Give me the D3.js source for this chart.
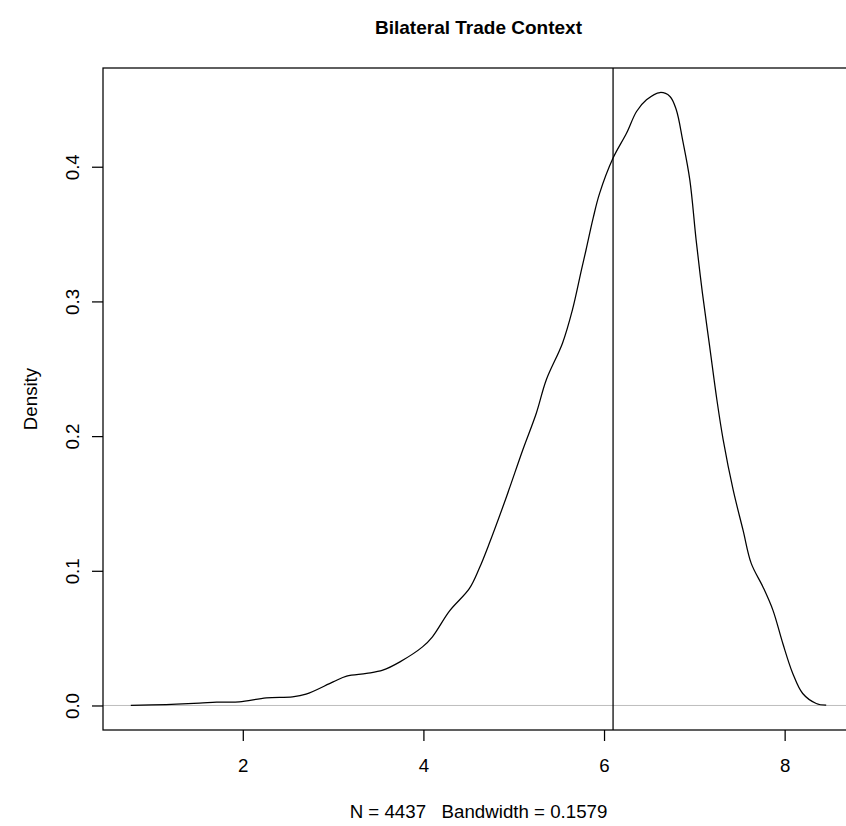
<!DOCTYPE html>
<html>
<head>
<meta charset="utf-8">
<script src="https://cdn.jsdelivr.net/npm/d3@7"></script>
<style>
  html, body { margin: 0; padding: 0; background: #fff; }
  svg { display: block; }
  text { font-family: "Liberation Sans", Arial, Helvetica, sans-serif; fill: #000; }
</style>
</head>
<body>
<script>
// ---- data ----
const densityX = [0.76, 1.15, 1.52, 1.71, 1.96, 2.26, 2.55, 2.70, 3.00, 3.15, 3.37, 3.55, 3.74, 3.99, 4.10, 4.29, 4.51, 4.62, 4.73, 4.92, 5.10, 5.25, 5.36, 5.54, 5.65, 5.75, 5.80, 5.88, 5.95, 6.10, 6.25, 6.36, 6.47, 6.62, 6.73, 6.80, 6.87, 6.95, 7.02, 7.09, 7.17, 7.25, 7.32, 7.43, 7.54, 7.63, 7.76, 7.87, 7.98, 8.09, 8.20, 8.35, 8.46];
const densityY = [0.0000, 0.0007, 0.0017, 0.0025, 0.0027, 0.0056, 0.0064, 0.0084, 0.0175, 0.0218, 0.0238, 0.0262, 0.0324, 0.0435, 0.0510, 0.0702, 0.0869, 0.1020, 0.1204, 0.1550, 0.1897, 0.2170, 0.2417, 0.2690, 0.2937, 0.3234, 0.3380, 0.3620, 0.3800, 0.4064, 0.4250, 0.4410, 0.4497, 0.4551, 0.4522, 0.4423, 0.4200, 0.3903, 0.3455, 0.3060, 0.2664, 0.2268, 0.1970, 0.1600, 0.1300, 0.1055, 0.0880, 0.0708, 0.0460, 0.0238, 0.0089, 0.0015, 0.0002];
const verticalLineX = 6.1;
const xTicks = [2, 4, 6, 8];
const yTicks = [0.0, 0.1, 0.2, 0.3, 0.4];
const yTickLabels = ["0.0", "0.1", "0.2", "0.3", "0.4"];
const titleText = "Bilateral Trade Context";
const xLabelText = "N = 4437   Bandwidth = 0.1579";
const yLabelText = "Density";

// ---- layout ----
const W = 846, H = 826;
const plot = { left: 103, right: 854, top: 68, bottom: 730 };
const baseFont = 18.7;

const svg = d3.select("body").append("svg").attr("width", W).attr("height", H);
svg.append("rect").attr("width", W).attr("height", H).attr("fill", "#fff");

const points = densityX.map((x, i) => ({ x, y: densityY[i] }));
const xExt = d3.extent(densityX), yMax = d3.max(densityY);
const xPad = (xExt[1] - xExt[0]) * 0.04, yPad = yMax * 0.04;

const x = d3.scaleLinear().domain([xExt[0] - xPad, xExt[1] + xPad]).range([plot.left, plot.right]);
const y = d3.scaleLinear().domain([0 - yPad, yMax + yPad]).range([plot.bottom, plot.top]);

// clip to plot region
svg.append("clipPath").attr("id", "clip").append("rect")
  .attr("x", plot.left).attr("y", plot.top)
  .attr("width", plot.right - plot.left).attr("height", plot.bottom - plot.top);

const g = svg.append("g").attr("clip-path", "url(#clip)");

// zero line (gray)
g.append("line")
  .attr("x1", plot.left).attr("x2", plot.right)
  .attr("y1", y(0)).attr("y2", y(0))
  .attr("stroke", "#bebebe").attr("stroke-width", 1);

// density curve
const line = d3.line().x(d => x(d.x)).y(d => y(d.y)).curve(d3.curveCatmullRom.alpha(0.5));
g.append("path").datum(points)
  .attr("d", line).attr("fill", "none")
  .attr("stroke", "#000").attr("stroke-width", 1.25);

// vertical line
g.append("line")
  .attr("x1", x(verticalLineX)).attr("x2", x(verticalLineX))
  .attr("y1", plot.top).attr("y2", plot.bottom)
  .attr("stroke", "#000").attr("stroke-width", 1.25);

// box
svg.append("rect")
  .attr("x", plot.left).attr("y", plot.top)
  .attr("width", plot.right - plot.left).attr("height", plot.bottom - plot.top)
  .attr("fill", "none").attr("stroke", "#000").attr("stroke-width", 1.25);

// x axis
const xAxis = svg.append("g")
  .attr("transform", `translate(0,${plot.bottom})`)
  .call(d3.axisBottom(x).tickValues(xTicks).tickFormat(d3.format("d")).tickSize(11).tickPadding(17.5));
xAxis.select(".domain").remove();
xAxis.selectAll("line").attr("stroke", "#000").attr("stroke-width", 1.25);
xAxis.selectAll("text").attr("font-size", baseFont).attr("fill", "#000")
  .style("font-family", '"Liberation Sans", Arial, Helvetica, sans-serif');

// y axis
const yAxis = svg.append("g")
  .attr("transform", `translate(${plot.left},0)`)
  .call(d3.axisLeft(y).tickValues(yTicks).tickFormat((d, i) => yTickLabels[i]).tickSize(11));
yAxis.select(".domain").remove();
yAxis.selectAll("line").attr("stroke", "#000").attr("stroke-width", 1.25);
yAxis.selectAll("text")
  .attr("x", 0).attr("y", 0).attr("dy", null)
  .attr("text-anchor", "middle")
  .attr("transform", "translate(-24.5,0) rotate(-90)")
  .attr("font-size", baseFont).attr("fill", "#000")
  .style("font-family", '"Liberation Sans", Arial, Helvetica, sans-serif');

const cx = (plot.left + plot.right) / 2;

// title
svg.append("text")
  .attr("x", cx).attr("y", 34)
  .attr("text-anchor", "middle")
  .attr("font-size", 19).attr("font-weight", "bold")
  .text(titleText);

// x label (subtitle)
svg.append("text")
  .attr("x", cx).attr("y", 818)
  .attr("text-anchor", "middle")
  .attr("font-size", baseFont)
  .attr("xml:space", "preserve").style("white-space", "pre")
  .text(xLabelText);

// y label
svg.append("text")
  .attr("transform", `translate(37,${(plot.top + plot.bottom) / 2}) rotate(-90)`)
  .attr("text-anchor", "middle")
  .attr("font-size", baseFont)
  .text(yLabelText);
</script>
</body>
</html>
